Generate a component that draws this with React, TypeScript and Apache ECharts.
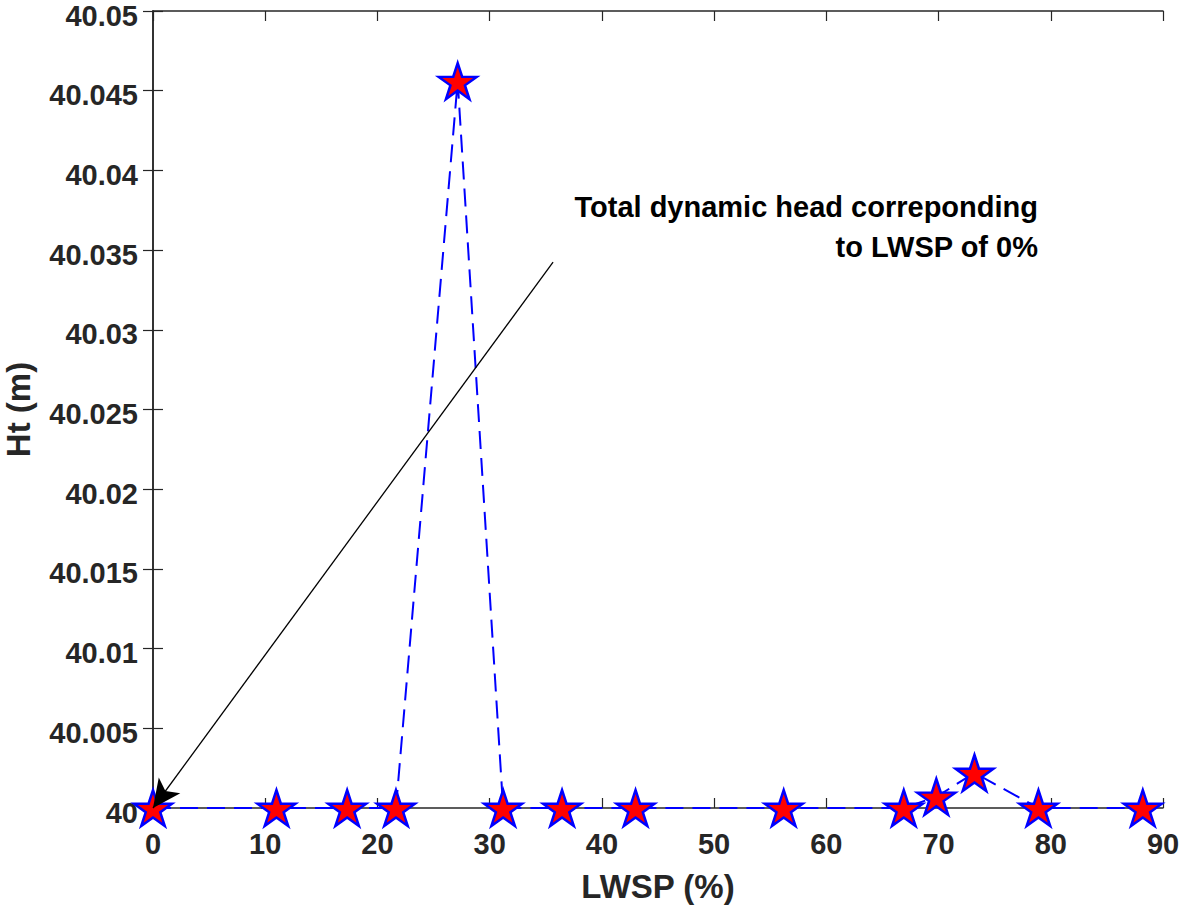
import React, { useEffect, useRef } from "react";
import * as echarts from "echarts";

const lwsp = [0, 11, 17.3, 21.65, 27.15, 31.2, 36.45, 43.0, 56.2, 66.9, 69.8, 73.2, 78.9, 88.2];
const ht = [40, 40, 40, 40, 40.0456, 40, 40, 40, 40, 40, 40.0007, 40.0022, 40, 40];
const xTicks = [0, 10, 20, 30, 40, 50, 60, 70, 80, 90];
const arrowStart = [35.65, 40.03425];
const arrowEnd = [0, 40];
const noteLines = ["Total dynamic head correponding", "to LWSP of 0%"];

const FONT = "'Liberation Sans', Arial, Helvetica, sans-serif";
const STAR =
  "path://M0,-100L22.45,-30.9L95.1,-30.9L36.33,11.8L58.78,80.9L0,38.2L-58.78,80.9L-36.33,11.8L-95.1,-30.9L-22.45,-30.9Z";

export default function App() {
  const ref = useRef<HTMLDivElement>(null);
  useEffect(() => {
    if (!ref.current) return;
    const chart = echarts.init(ref.current, null, { renderer: "svg" });
    const axisColor = "#262626";
    const fmtY = (v: number) => parseFloat(v.toFixed(3)).toString();
    chart.setOption({
      animation: false,
      backgroundColor: "#ffffff",
      grid: { left: 153, right: 17, top: 11, bottom: 100, containLabel: false, outerBoundsMode: "none" },
      xAxis: [
        {
          type: "value",
          min: xTicks[0],
          max: xTicks[xTicks.length - 1],
          interval: 10,
          name: "LWSP (%)",
          nameLocation: "middle",
          nameGap: 62,
          nameTextStyle: { fontFamily: FONT, fontWeight: "bold", fontSize: 33, color: axisColor },
          axisLine: { show: true, lineStyle: { color: axisColor, width: 1.5 } },
          axisTick: { show: true, inside: true, length: 10, lineStyle: { color: axisColor, width: 1.2 } },
          axisLabel: { margin: 21, fontFamily: FONT, fontWeight: "bold", fontSize: 29, color: axisColor },
          splitLine: { show: false },
        },
        {
          type: "value",
          position: "top",
          min: xTicks[0],
          max: xTicks[xTicks.length - 1],
          interval: 10,
          axisLine: { show: true, lineStyle: { color: axisColor, width: 1.5 } },
          axisTick: { show: true, inside: true, length: 10, lineStyle: { color: axisColor, width: 1.2 } },
          axisLabel: { show: false },
          splitLine: { show: false },
        },
      ],
      yAxis: [
        {
          type: "value",
          min: 40,
          max: 40.05,
          interval: 0.005,
          name: "Ht (m)",
          nameLocation: "middle",
          nameGap: 118,
          nameTextStyle: { fontFamily: FONT, fontWeight: "bold", fontSize: 33, color: axisColor },
          axisLine: { show: true, lineStyle: { color: axisColor, width: 1.5 } },
          axisTick: { show: true, inside: true, length: 10, lineStyle: { color: axisColor, width: 1.2 } },
          axisLabel: {
            margin: 15,
            verticalAlign: "top",
            lineHeight: 9,
            fontFamily: FONT,
            fontWeight: "bold",
            fontSize: 29,
            color: axisColor,
            formatter: fmtY,
          },
          splitLine: { show: false },
        },
        {
          type: "value",
          position: "right",
          min: 40,
          max: 40.05,
          interval: 0.005,
          axisLine: { show: true, lineStyle: { color: axisColor, width: 1.5 } },
          axisTick: { show: true, inside: true, length: 10, lineStyle: { color: axisColor, width: 1.2 } },
          axisLabel: { show: false },
          splitLine: { show: false },
        },
      ],
      series: [
        {
          type: "line",
          data: lwsp.map((x, i) => [x, ht[i]]),
          xAxisIndex: 0,
          yAxisIndex: 0,
          symbol: STAR,
          symbolSize: [38, 36],
          showAllSymbol: true,
          clip: false,
          lineStyle: { color: "#0000ff", width: 2, type: [18, 9] },
          itemStyle: { color: "#ff0000", borderColor: "#0000ff", borderWidth: 2.5 },
          emphasis: { disabled: true },
          z: 3,
          markLine: {
            silent: true,
            animation: false,
            symbol: ["none", "arrow"],
            symbolSize: [20, 28],
            label: { show: false },
            lineStyle: { color: "#000000", width: 1.3, type: "solid" },
            emphasis: { disabled: true },
            data: [[{ coord: arrowStart }, { coord: arrowEnd }]],
            z: 10,
          },
        },
      ],
      graphic: [
        {
          type: "text",
          x: 1038,
          y: 207,
          style: {
            text: noteLines[0],
            font: `bold 29px ${FONT}`,
            fill: "#000000",
            textAlign: "right",
            textVerticalAlign: "middle",
          },
          z: 20,
        },
        {
          type: "text",
          x: 1038,
          y: 247,
          style: {
            text: noteLines[1],
            font: `bold 29px ${FONT}`,
            fill: "#000000",
            textAlign: "right",
            textVerticalAlign: "middle",
          },
          z: 20,
        },
      ],
    });
    return () => chart.dispose();
  }, []);
  return (
    <div
      ref={ref}
      style={{ position: "fixed", left: 0, top: 0, width: 1180, height: 908, background: "#fff" }}
    />
  );
}
